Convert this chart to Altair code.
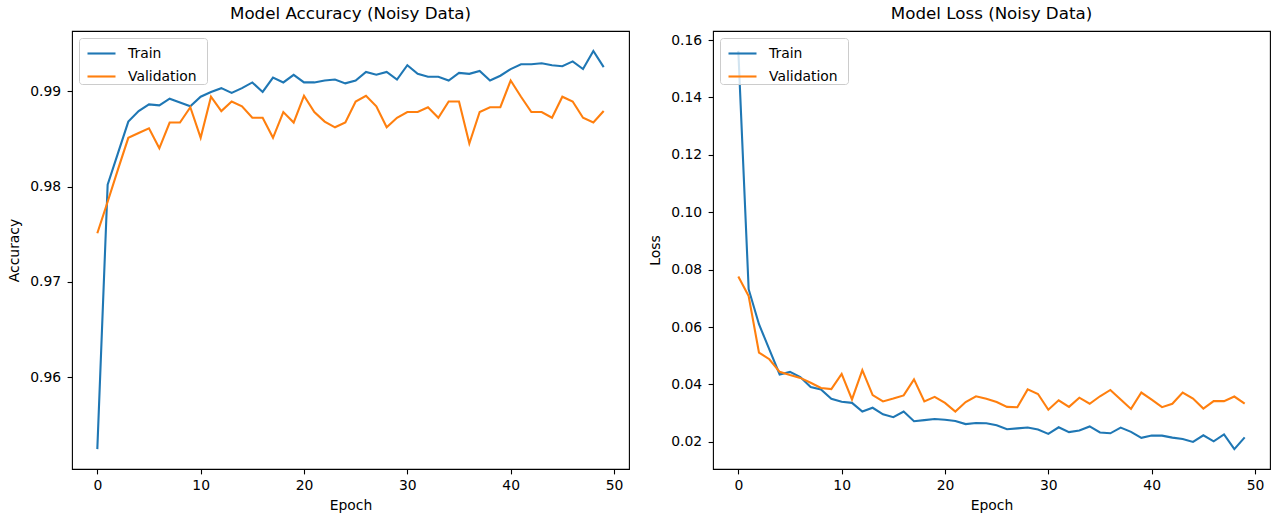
import altair as alt
import pandas as pd

epochs = list(range(50))

train_acc = [
    0.9525, 0.9802, 0.9835, 0.9868, 0.9879, 0.9886, 0.9885, 0.9892, 0.9888, 0.9884,
    0.9894, 0.9899, 0.9903, 0.9898, 0.9903, 0.9909, 0.9899, 0.9914, 0.9909, 0.9917,
    0.9909, 0.9909, 0.9911, 0.9912, 0.9908, 0.9911, 0.9920, 0.9917, 0.9920, 0.9912,
    0.9927, 0.9918, 0.9915, 0.9915, 0.9911, 0.9919, 0.9918, 0.9921, 0.9911, 0.9916,
    0.9923, 0.9928, 0.9928, 0.9929, 0.9927, 0.9926, 0.9931, 0.9923, 0.9942, 0.9925,
]
val_acc = [
    0.9751, 0.9784, 0.9818, 0.9851, 0.9856, 0.9861, 0.9840, 0.9867, 0.9867, 0.9883,
    0.9851, 0.9894, 0.9879, 0.9889, 0.9884, 0.9872, 0.9872, 0.9851, 0.9878, 0.9867,
    0.9895, 0.9878, 0.9868, 0.9862, 0.9867, 0.9889, 0.9895, 0.9884, 0.9862, 0.9872,
    0.9878, 0.9878, 0.9883, 0.9872, 0.9889, 0.9889, 0.9845, 0.9878, 0.9883, 0.9883,
    0.9911, 0.9894, 0.9878, 0.9878, 0.9872, 0.9894, 0.9889, 0.9872, 0.9867, 0.9879,
]
train_loss = [
    0.1562, 0.0732, 0.0610, 0.0522, 0.0435, 0.0444, 0.0426, 0.0391, 0.0383, 0.0350,
    0.0340, 0.0336, 0.0306, 0.0319, 0.0296, 0.0286, 0.0306, 0.0272, 0.0276, 0.0280,
    0.0277, 0.0273, 0.0262, 0.0266, 0.0265, 0.0258, 0.0244, 0.0247, 0.0250, 0.0243,
    0.0228, 0.0251, 0.0234, 0.0240, 0.0254, 0.0233, 0.0230, 0.0250, 0.0235, 0.0214,
    0.0222, 0.0222, 0.0215, 0.0210, 0.0200, 0.0223, 0.0202, 0.0226, 0.0175, 0.0216,
]
val_loss = [
    0.0776, 0.0708, 0.0511, 0.0488, 0.0444, 0.0433, 0.0423, 0.0406, 0.0388, 0.0384,
    0.0437, 0.0348, 0.0450, 0.0363, 0.0341, 0.0351, 0.0362, 0.0418, 0.0341, 0.0357,
    0.0336, 0.0306, 0.0339, 0.0359, 0.0350, 0.0339, 0.0322, 0.0321, 0.0383, 0.0367,
    0.0312, 0.0345, 0.0322, 0.0354, 0.0333, 0.0359, 0.0381, 0.0348, 0.0315, 0.0372,
    0.0347, 0.0321, 0.0333, 0.0372, 0.0351, 0.0316, 0.0342, 0.0342, 0.0358, 0.0333,
]

series_names = ["Train", "Validation"]
series_colors = ["#1f77b4", "#ff7f0e"]
x_ticks = [0, 10, 20, 30, 40, 50]
acc_ticks = [0.96, 0.97, 0.98, 0.99]
loss_ticks = [0.02, 0.04, 0.06, 0.08, 0.10, 0.12, 0.14, 0.16]

FONT = "DejaVu Sans"


def long_df(a, b):
    return pd.DataFrame({
        "Epoch": epochs + epochs,
        "value": a + b,
        "series": [series_names[0]] * len(a) + [series_names[1]] * len(b),
    })


def padded(vals):
    lo, hi = min(vals), max(vals)
    r = hi - lo
    return [lo - 0.05 * r, hi + 0.05 * r]


x_domain = padded(epochs)


def panel(df, title, ytitle, ydomain, yticks):
    return alt.Chart(df, title=alt.TitleParams(title)).mark_line(
        strokeWidth=2.1, clip=True
    ).encode(
        x=alt.X("Epoch:Q",
                scale=alt.Scale(domain=x_domain, nice=False, zero=False),
                axis=alt.Axis(values=x_ticks, format="d", title="Epoch")),
        y=alt.Y("value:Q",
                scale=alt.Scale(domain=ydomain, nice=False, zero=False),
                axis=alt.Axis(values=yticks, format=".2f", title=ytitle)),
        color=alt.Color("series:N",
                        scale=alt.Scale(domain=series_names, range=series_colors),
                        legend=alt.Legend(title=None, orient="top-left", offset=7,
                                          labelExpr="datum.label + '\u2800'")),
        order=alt.Order("Epoch:Q"),
    ).properties(width=557, height=438)


left = panel(long_df(train_acc, val_acc), "Model Accuracy (Noisy Data)", "Accuracy",
             padded(train_acc + val_acc), acc_ticks)
right = panel(long_df(train_loss, val_loss), "Model Loss (Noisy Data)", "Loss",
              padded(train_loss + val_loss), loss_ticks)

chart = alt.hconcat(left, right, spacing=18).resolve_scale(
    color="independent"
).resolve_legend(color="independent").configure_view(
    stroke="black", strokeWidth=1.1
).configure_axis(
    labelFont=FONT, titleFont=FONT, labelFontSize=13.9, titleFontSize=13.9,
    labelColor="black", titleColor="black", tickColor="black",
    tickSize=4.9, tickWidth=1.1, domain=False, grid=False,
    titleFontWeight="normal",
).configure_axisX(
    labelPadding=4.5, titlePadding=6,
).configure_axisY(
    labelPadding=6.5, titlePadding=8,
).configure_title(
    font=FONT, fontSize=16.7, fontWeight="normal", color="black", offset=8,
    anchor="middle",
).configure_legend(
    labelFont=FONT, labelFontSize=13.9, labelColor="black",
    symbolType="stroke", symbolSize=784, symbolStrokeWidth=2.1,
    symbolOffset=7, labelOffset=11, padding=0, rowPadding=-6,
    strokeColor="#cccccc", fillColor="rgba(255,255,255,0.8)", cornerRadius=3,
).properties(
    padding={"left": 7, "top": 5, "right": 5, "bottom": 5}
)

chart.save("out.html", embed_options={"renderer": "svg", "actions": False})
